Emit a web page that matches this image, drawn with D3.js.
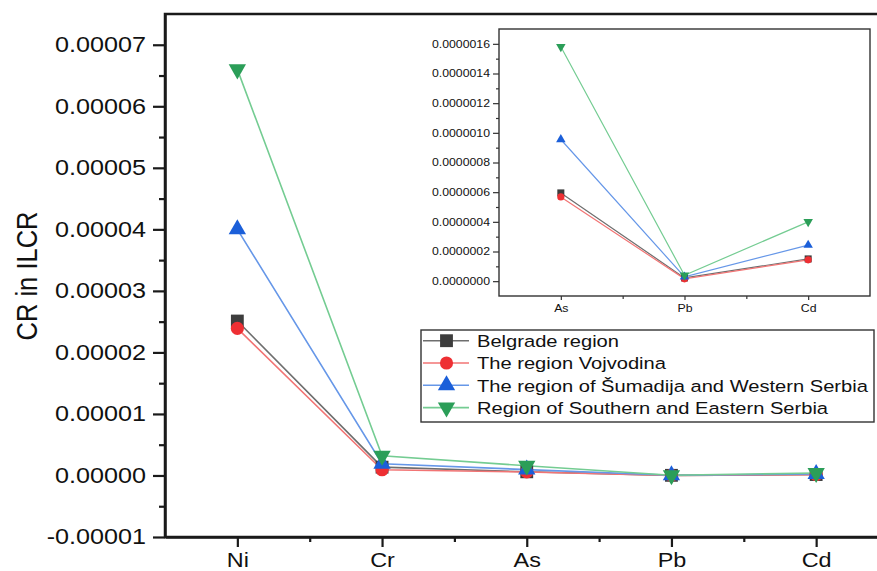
<!DOCTYPE html>
<html>
<head>
<meta charset="utf-8">
<script src="https://cdn.jsdelivr.net/npm/d3@7"></script>
<style>
  body { margin: 0; background: #fff; }
  svg { display: block; }
  text { font-family: "Liberation Sans", Arial, sans-serif; fill: #111; }
</style>
</head>
<body>
<div id="chart"></div>
<script>
// categories and values (CR in ILCR)
const elements = ["Ni", "Cr", "As", "Pb", "Cd"];
const insetElements = ["As", "Pb", "Cd"];
const seriesNames = [
    "Belgrade region",
    "The region Vojvodina",
    "The region of Šumadija and Western Serbia",
    "Region of Southern and Eastern Serbia"
];
const belgrade = [0.0000251, 0.00000135, 0.000000595, 0.000000022, 0.000000150];
const vojvodina = [0.0000239, 0.00000092, 0.000000568, 0.000000016, 0.000000144];
const sumadija = [0.0000400, 0.00000190, 0.000000955, 0.000000029, 0.000000243];
const southEast = [0.0000660, 0.00000320, 0.000001580, 0.000000040, 0.000000400];
const mainYTicks = [-0.00001, 0, 0.00001, 0.00002, 0.00003, 0.00004, 0.00005, 0.00006, 0.00007];
const mainYMinor = [-0.000005, 0.000005, 0.000015, 0.000025, 0.000035, 0.000045, 0.000055, 0.000065];
const insetYTicks = [0, 0.0000002, 0.0000004, 0.0000006, 0.0000008, 0.000001, 0.0000012, 0.0000014, 0.0000016];
const insetYMinor = [0.0000001, 0.0000003, 0.0000005, 0.0000007, 0.0000009, 0.0000011, 0.0000013, 0.0000015];

const W = 877, H = 571;
const STRETCH = 1.17; // the picture is a bit wide, text glyphs look stretched

const series = [
    { name: seriesNames[0], values: belgrade, marker: "#3d3d3d", line: "#6e6e6e", symbol: d3.symbolSquare, size: 165, rot: 0 },
    { name: seriesNames[1], values: vojvodina, marker: "#ee2f33", line: "#f27474", symbol: d3.symbolCircle, size: 135, rot: 0 },
    { name: seriesNames[2], values: sumadija, marker: "#1b5fd9", line: "#6697e8", symbol: d3.symbolTriangle, size: 130, rot: 0 },
    { name: seriesNames[3], values: southEast, marker: "#2b9e58", line: "#74cc92", symbol: d3.symbolTriangle, size: 130, rot: 180 }
];

function stretch(sel, k) {
    sel.each(function () {
        const w = this.getComputedTextLength();
        d3.select(this).attr("textLength", w * k).attr("lengthAdjust", "spacingAndGlyphs");
    });
}

const svg = d3.select("#chart").append("svg")
    .attr("width", W)
    .attr("height", H);

// ---------- main plot ----------
const plot = { left: 165, right: 888.5, top: 14, bottom: 537 };
const xScale = d3.scaleLinear([0.5, elements.length + 0.5], [plot.left, plot.right]);
const yScale = d3.scaleLinear([-0.00001, 0.000075], [plot.bottom, plot.top]);

svg.append("rect")
    .attr("x", plot.left).attr("y", plot.top)
    .attr("width", plot.right - plot.left).attr("height", plot.bottom - plot.top)
    .attr("fill", "none").attr("stroke", "#1a1a1a").attr("stroke-width", 2.5);

// y axis
const yAxis = svg.append("g")
    .attr("transform", `translate(${plot.left},0)`)
    .call(d3.axisLeft(yScale).tickValues(mainYTicks).tickFormat(d => d.toFixed(5)).tickSize(12).tickSizeOuter(0));
svg.append("g")
    .attr("transform", `translate(${plot.left},0)`)
    .call(d3.axisLeft(yScale).tickValues(mainYMinor).tickFormat("").tickSize(6).tickSizeOuter(0))
    .call(g => g.select(".domain").remove());

// x axis
const xAxis = svg.append("g")
    .attr("transform", `translate(0,${plot.bottom})`)
    .call(d3.axisBottom(xScale).tickValues(d3.range(1, elements.length + 1)).tickFormat(i => elements[i - 1]).tickSize(10).tickSizeOuter(0));
svg.append("g")
    .attr("transform", `translate(0,${plot.bottom})`)
    .call(d3.axisBottom(xScale).tickValues(d3.range(1.5, elements.length + 0.5, 1)).tickFormat("").tickSize(5).tickSizeOuter(0))
    .call(g => g.select(".domain").remove());

svg.selectAll(".domain").attr("stroke", "#1a1a1a").attr("stroke-width", 2.5);
svg.selectAll(".tick line").attr("stroke", "#1a1a1a").attr("stroke-width", 2.2);

yAxis.selectAll("text")
    .attr("x", -19)
    .attr("font-size", 21.5)
    .attr("fill", "#111");
xAxis.selectAll("text")
    .attr("y", 16)
    .attr("dy", "0.71em")
    .attr("font-size", 20)
    .attr("fill", "#111");
svg.selectAll("text").style("font-family", null).attr("font-family", null);

// y title
svg.append("text")
    .attr("transform", `translate(26,276) scale(${STRETCH},1) rotate(-90)`)
    .attr("text-anchor", "middle")
    .attr("dy", "0.36em")
    .attr("font-size", 25.5)
    .text("CR in ILCR");

function drawSeries(g, xs, ys, idx, big) {
    series.forEach(s => {
        const vals = idx.map(i => s.values[i]);
        g.append("path")
            .datum(vals)
            .attr("fill", "none")
            .attr("stroke", s.line)
            .attr("stroke-width", big ? 1.6 : 1.2)
            .attr("d", d3.line().x((_, i) => xs(i + 1)).y(d => ys(d)));
    });
    series.forEach(s => {
        const vals = idx.map(i => s.values[i]);
        g.selectAll(null)
            .data(vals)
            .join("path")
            .attr("transform", (d, i) => `translate(${xs(i + 1)},${ys(d)}) rotate(${s.rot})`)
            .attr("fill", s.marker)
            .attr("d", d3.symbol(s.symbol, big ? s.size : s.size * 0.3));
    });
}

drawSeries(svg.append("g"), xScale, yScale, d3.range(elements.length), true);

// ---------- inset ----------
const inset = { left: 499, right: 870, top: 29, bottom: 296 };
const ix = d3.scaleLinear([0.5, insetElements.length + 0.5], [inset.left, inset.right]);
const iy = d3.scaleLinear([-0.0000001, 0.0000017], [inset.bottom, inset.top]);

const ig = svg.append("g");
ig.append("rect")
    .attr("x", inset.left).attr("y", inset.top)
    .attr("width", inset.right - inset.left).attr("height", inset.bottom - inset.top)
    .attr("fill", "#fff").attr("stroke", "#333").attr("stroke-width", 1.4);

const iyAxis = ig.append("g")
    .attr("transform", `translate(${inset.left},0)`)
    .call(d3.axisLeft(iy).tickValues(insetYTicks).tickFormat(d => d.toFixed(7)).tickSize(6).tickSizeOuter(0));
ig.append("g")
    .attr("transform", `translate(${inset.left},0)`)
    .call(d3.axisLeft(iy).tickValues(insetYMinor).tickFormat("").tickSize(3).tickSizeOuter(0));
const ixAxis = ig.append("g")
    .attr("transform", `translate(0,${inset.bottom})`)
    .call(d3.axisBottom(ix).tickValues(d3.range(1, insetElements.length + 1)).tickFormat(i => insetElements[i - 1]).tickSize(4).tickSizeOuter(0));
ig.append("g")
    .attr("transform", `translate(0,${inset.bottom})`)
    .call(d3.axisBottom(ix).tickValues([1.5, 2.5]).tickFormat("").tickSize(3).tickSizeOuter(0));
ig.selectAll(".domain").remove();
ig.selectAll(".tick line").attr("stroke", "#333").attr("stroke-width", 1.2);
iyAxis.selectAll("text").attr("x", -9).attr("font-size", 10.5).attr("fill", "#222");
ixAxis.selectAll("text").attr("y", 9).attr("dy", "0.71em").attr("font-size", 10.5).attr("fill", "#222");
ig.selectAll("text").attr("font-family", null);

drawSeries(ig.append("g"), ix, iy, [2, 3, 4], false);

// ---------- legend ----------
const legend = { left: 421, top: 330, right: 874, bottom: 422 };
const lg = svg.append("g");
lg.append("rect")
    .attr("x", legend.left).attr("y", legend.top)
    .attr("width", legend.right - legend.left).attr("height", legend.bottom - legend.top)
    .attr("fill", "#fff").attr("stroke", "#333").attr("stroke-width", 1.4);

const rows = lg.selectAll("g.row")
    .data(series)
    .join("g")
    .attr("class", "row")
    .attr("transform", (d, i) => `translate(${legend.left},${legend.top + 10.7 + i * 22.3})`);
rows.append("line")
    .attr("x1", 2).attr("x2", 48)
    .attr("stroke", d => d.line).attr("stroke-width", 1.6);
rows.append("path")
    .attr("transform", d => `translate(25.5,0) rotate(${d.rot})`)
    .attr("fill", d => d.marker)
    .attr("d", d => d3.symbol(d.symbol, d.size)());
rows.append("text")
    .attr("x", 56)
    .attr("dy", "0.36em")
    .attr("font-size", 17.2)
    .text(d => d.name);

stretch(svg.selectAll("text").filter(function () { return !this.getAttribute("transform"); }), STRETCH);
</script>
</body>
</html>
